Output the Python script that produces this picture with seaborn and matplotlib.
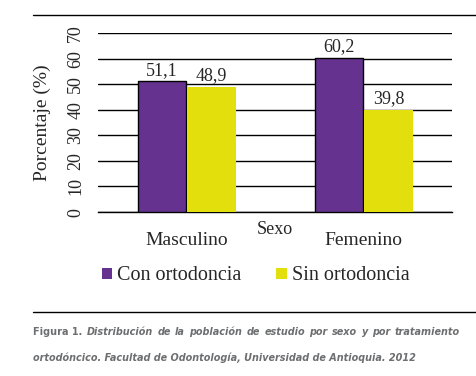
import matplotlib
matplotlib.use("Agg")
import matplotlib.pyplot as plt
from matplotlib.lines import Line2D
from matplotlib.patches import Patch
import pandas as pd
import seaborn as sns

sexo = ["Masculino", "Femenino"]
grupos = ["Con ortodoncia", "Sin ortodoncia"]
con_ortodoncia = [51.1, 60.2]
sin_ortodoncia = [48.9, 39.8]
y_ticks = [0, 10, 20, 30, 40, 50, 60, 70]

colores = {"Con ortodoncia": "#65338f", "Sin ortodoncia": "#e3df0c"}

df = pd.DataFrame({
    "Sexo": sexo * 2,
    "Grupo": [grupos[0]] * 2 + [grupos[1]] * 2,
    "Porcentaje": con_ortodoncia + sin_ortodoncia,
})

sns.set_style("white")
plt.rcParams["font.family"] = ["Liberation Serif", "DejaVu Serif"]

fig = plt.figure(figsize=(4.76, 3.76), dpi=100)
ax = fig.add_axes([0.206, 0.436, 0.744, 0.476])

sns.barplot(data=df, x="Sexo", y="Porcentaje", hue="Grupo", order=sexo,
            hue_order=grupos, palette=colores, width=0.56, gap=0.02,
            saturation=1, legend=False, ax=ax)

for bar in ax.patches:
    fc = bar.get_facecolor()
    if fc[2] > 0.3:
        bar.set_edgecolor("black")
        bar.set_linewidth(1.0)
    else:
        bar.set_edgecolor("none")
    bar.set_zorder(3)

for cont in ax.containers:
    ax.bar_label(cont, labels=[f"{v:.1f}".replace(".", ",") for v in cont.datavalues],
                 padding=2, fontsize=13)

ax.set_ylim(0, 70)
ax.set_xlim(-0.5, 1.5)
ax.set_yticks(y_ticks)
ax.set_yticklabels([str(t) for t in y_ticks], rotation=90, va="center", fontsize=13)
ax.yaxis.grid(True, color="black", linewidth=1.0)
ax.set_axisbelow(True)
for s in ["left", "right", "top"]:
    ax.spines[s].set_visible(False)
ax.spines["bottom"].set_color("black")
ax.spines["bottom"].set_linewidth(1.0)
ax.tick_params(axis="y", length=0, pad=10)
ax.tick_params(axis="x", which="major", length=0, pad=14, labelsize=14)
ax.set_xticks([-0.5, 0.5, 1.5], minor=True)
ax.tick_params(axis="x", which="minor", length=6, width=1, color="black", direction="out")
ax.set_ylabel("Porcentaje (%)", fontsize=14, labelpad=12)
ax.set_xlabel("")
ax.text(0.5, -0.1, "Sexo", transform=ax.transAxes, ha="center", va="center", fontsize=13)

handles = [Patch(facecolor=colores[g], edgecolor="none") for g in grupos]
fig.legend(handles, grupos, loc="center left", bbox_to_anchor=(0.176, 0.266), ncol=2,
           frameon=False, fontsize=14.5, handlelength=0.5, handleheight=0.5,
           handletextpad=0.25, columnspacing=1.75)

fig.add_artist(Line2D([33 / 476, 1], [1 - 15 / 376] * 2, color="black", linewidth=1.0))
fig.add_artist(Line2D([33 / 476, 1], [1 - 312 / 376] * 2, color="black", linewidth=1.0))

# pie de figura en gris; la primera linea va justificada
gris = "#6d6e70"
cap = dict(color=gris, fontweight="bold", family="DejaVu Sans", fontstretch="condensed",
           va="center")
W = fig.bbox.width
x0, x1 = 33, 460

t3 = fig.text(x0 / W, 1 - 358 / 376,
              "ortodóncico. Facultad de Odontología, Universidad de Antioquia. 2012",
              style="italic", fontsize=10, **cap)
fig.canvas.draw()
fs = 10 * (418 - 33) / t3.get_window_extent().width
t3.set_fontsize(fs)

palabras = ["Figura 1.", "Distribución", "de", "la", "población", "de", "estudio",
            "por", "sexo", "y", "por", "tratamiento"]
textos = []
for i, p in enumerate(palabras):
    textos.append(fig.text(0, 1 - 332 / 376, p, fontsize=fs,
                           style="normal" if i == 0 else "italic", **cap))
fig.canvas.draw()
anchos = [t.get_window_extent().width for t in textos]
hueco = (x1 - x0 - sum(anchos)) / (len(palabras) - 1)
x = x0
for t, a in zip(textos, anchos):
    t.set_x(x / W)
    x += a + hueco

fig.savefig("out.png", dpi=100)
